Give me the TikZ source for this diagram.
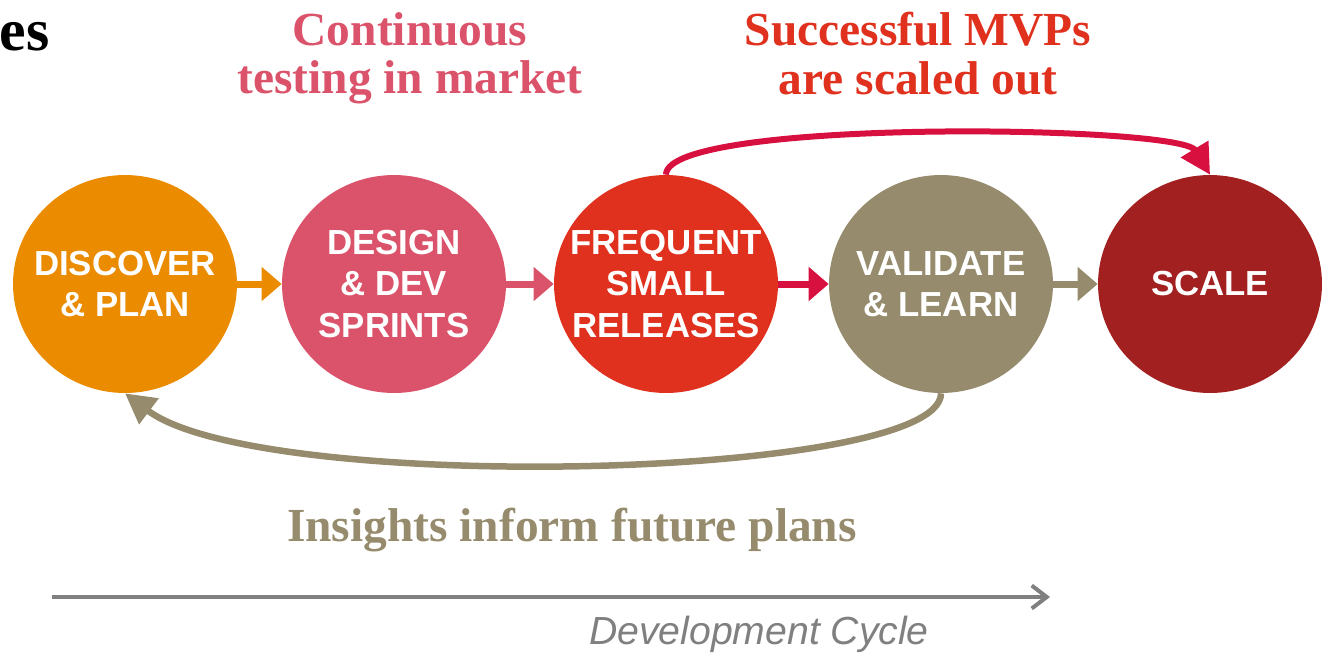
\documentclass[tikz,border=0pt]{standalone}
\usepackage{fontspec}
\setmainfont{Liberation Serif}
\setsansfont{Liberation Sans}
\usetikzlibrary{positioning, shapes.geometric, arrows.meta}
\definecolor{pwcorange}{HTML}{EB8C00}
\definecolor{pwcrose}{HTML}{DB536A}
\definecolor{pwcred}{HTML}{E0301E}
\definecolor{pwctaupe}{HTML}{968C6D}
\definecolor{pwcdark}{HTML}{A32020}
\definecolor{pwccrimson}{HTML}{D8103F}
\definecolor{pwcgray}{HTML}{808080}

\begin{document}
\begin{tikzpicture}[x=0.02cm, y=-0.02cm,
    stage/.style={ellipse, minimum width=4.48cm, minimum height=4.36cm,
      inner xsep=-0.4cm, inner ysep=0pt,
      text=white, align=center, font=\sffamily\bfseries\fontsize{19.8}{23.4}\selectfont},
    link/.style={line width=0.14cm, -{Triangle[length=0.4cm, width=0.66cm]}},
    feedback/.style={line width=0.13cm, -{Triangle[length=0.6cm, width=0.62cm]}},
    headline/.style={font=\bfseries\fontsize{27}{27.5}\selectfont, align=center, inner sep=0pt}]
  \useasboundingbox (0,0) rectangle (1328,654);

  % the five stages
  \node[stage, fill=pwcorange] (disc) at (125,284) {DISCOVER\\ \& PLAN};
  \node[stage, fill=pwcrose]   (dsgn) at (394,284) {DESIGN\\ \& DEV\\ SPRINTS};
  \node[stage, fill=pwcred]    (frq)  at (666,284) {FREQUENT\\ SMALL\\ RELEASES};
  \node[stage, fill=pwctaupe]  (val)  at (941,284) {VALIDATE\\ \& LEARN};
  \node[stage, fill=pwcdark]   (scl)  at (1210,284) {SCALE};

  \draw[link, pwcorange]  (disc) -- (dsgn);
  \draw[link, pwcrose]    (dsgn) -- (frq);
  \draw[link, pwccrimson] (frq) -- (val);
  \draw[link, pwctaupe]   (val) -- (scl);

  % scale-out and feedback arcs
  \draw[feedback, pwccrimson, line width=0.12cm] (frq.north)
    .. controls (666,118) and (1180,125) .. (scl.north);
  \draw[feedback, pwctaupe] (val.south)
    .. controls (941,480) and (260,495) .. (disc.south);

  % captions
  \node[headline, anchor=base east, text=black, font=\bfseries\fontsize{34}{34}\selectfont]
    (ttl) at (50,50) {es};
  \node[headline, anchor=north, text=pwcrose] (cont) at (410,12) {Continuous\\ testing in market};
  \node[headline, anchor=north, text=pwcred] (mvp) at (918,12) {Successful MVPs\\ are scaled out};
  \node[headline, anchor=north, text=pwctaupe] (ins) at (572,508) {Insights inform future plans};

  % time axis
  \coordinate (axstart) at (52,597);
  \coordinate (axend) at (1050,597);
  \draw[pwcgray, line width=0.08cm, -{Straight Barb[length=0.3cm, width=0.46cm]}] (axstart) -- (axend);
  \node[text=pwcgray, font=\sffamily\itshape\fontsize{22.3}{22.3}\selectfont, anchor=north, inner sep=0pt]
    (cyc) at (759,616) {Development Cycle};
\end{tikzpicture}
\end{document}
